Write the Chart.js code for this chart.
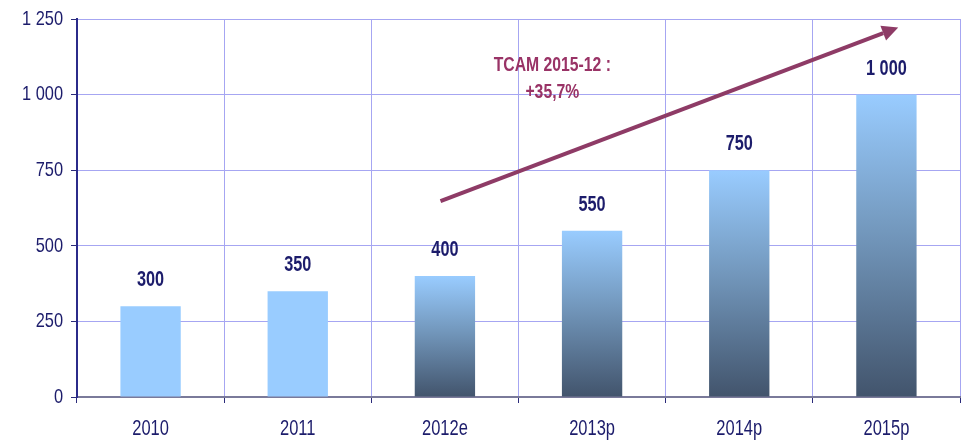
<!DOCTYPE html>
<html><head><meta charset="utf-8">
<script src="https://cdn.jsdelivr.net/npm/chart.js@4.4.0/dist/chart.umd.min.js"></script>
<style>html,body{margin:0;padding:0;background:#fff}#wrap{width:967px;height:440px}</style>
</head><body><div id="wrap"><canvas id="c" width="967" height="440"></canvas></div>
<script>
const categories = ['2010','2011','2012e','2013p','2014p','2015p'];
const values = [300, 350, 400, 550, 750, 1000];
const valueLabels = ['300','350','400','550','750','1 000'];
const yTicks = [0, 250, 500, 750, 1000, 1250];
const yTickLabels = ['0','250','500','750','1 000','1 250'];
const gradientFrom = 2; // index from which bars are shaded
const annotationLines = ['TCAM 2015-12 :', '+35,7%'];
const annotationPos = [[2.73, 1098], [2.73, 1009]];
const arrowFrom = [1.97, 648];
const arrowTo = [5.08, 1222];

const FONT = "'Liberation Sans',Arial,sans-serif";

function drawNarrow(c, txt, x, y, align, sx) {
  c.save();
  c.translate(x, y);
  c.scale(sx, 1);
  c.textAlign = align;
  c.fillText(txt, 0, 0);
  c.restore();
}

function barColor(ctx) {
  const chart = ctx.chart;
  if (ctx.dataIndex < gradientFrom) return '#99ccff';
  const ca = chart.chartArea;
  if (!ca) return '#7fa6cc';
  const ys = chart.scales.y;
  const top = ys.getPixelForValue(values[ctx.dataIndex]);
  const bot = ys.getPixelForValue(0);
  const g = chart.ctx.createLinearGradient(0, top, 0, bot);
  g.addColorStop(0, '#99ccff');
  g.addColorStop(0.45, '#7398bd');
  g.addColorStop(1, '#42546c');
  return g;
}

const overlay = {
  id: 'overlay',
  afterDatasetsDraw(chart) {
    const c = chart.ctx, xs = chart.scales.x, ys = chart.scales.y;
    const meta = chart.getDatasetMeta(0);
    c.save();
    c.textBaseline = 'middle';
    // axis labels
    c.fillStyle = '#1c1c6b';
    c.font = "21px " + FONT;
    yTicks.forEach((v, i) => drawNarrow(c, yTickLabels[i], xs.left - 14, ys.getPixelForValue(v), 'right', 0.78));
    c.font = "22px " + FONT;
    categories.forEach((t, i) => drawNarrow(c, t, xs.getPixelForValue(i), ys.bottom + 32, 'center', 0.75));
    // value labels
    c.font = "bold 22px " + FONT;
    meta.data.forEach((el, i) => drawNarrow(c, valueLabels[i], el.x, el.y - 26, 'center', 0.74));
    // arrow
    const x1 = xs.getPixelForValue(arrowFrom[0]), y1 = ys.getPixelForValue(arrowFrom[1]);
    const x2 = xs.getPixelForValue(arrowTo[0]), y2 = ys.getPixelForValue(arrowTo[1]);
    const ang = Math.atan2(y2 - y1, x2 - x1);
    const hl = 16, hw = 8;
    const bx = x2 - hl * Math.cos(ang), by = y2 - hl * Math.sin(ang);
    c.strokeStyle = '#8e3b66';
    c.fillStyle = '#8e3b66';
    c.lineWidth = 4;
    c.beginPath(); c.moveTo(x1, y1); c.lineTo(bx, by); c.stroke();
    c.beginPath();
    c.moveTo(x2, y2);
    c.lineTo(bx + hw * Math.sin(ang), by - hw * Math.cos(ang));
    c.lineTo(bx - hw * Math.sin(ang), by + hw * Math.cos(ang));
    c.closePath(); c.fill();
    // annotation
    c.fillStyle = '#993366';
    c.font = "bold 21px " + FONT;
    annotationLines.forEach((t, i) => {
      drawNarrow(c, t, xs.getPixelForValue(annotationPos[i][0]), ys.getPixelForValue(annotationPos[i][1]), 'center', 0.75);
    });
    c.restore();
  }
};

new Chart(document.getElementById('c'), {
  type: 'bar',
  data: { labels: categories, datasets: [{ data: values, backgroundColor: barColor, barPercentage: 0.41, categoryPercentage: 1 }] },
  options: {
    responsive: false, animation: false,
    layout: { padding: { top: 19, right: 7, left: 0, bottom: 0 } },
    plugins: { legend: { display: false }, tooltip: { enabled: false } },
    scales: {
      x: {
        grid: { color: '#a6a6f2', borderDash: [2, 2], lineWidth: 1, offset: true, drawTicks: true, tickLength: 6, tickColor: '#2b2b7a', tickBorderDash: [] },
        border: { color: '#7a7a9a', width: 2 },
        ticks: { display: false },
        afterFit(s) { s.height = 43; }
      },
      y: {
        min: 0, max: 1250,
        afterBuildTicks(s) { s.ticks = yTicks.map(v => ({ value: v })); },
        grid: { color: '#a6a6f2', borderDash: [2, 2], lineWidth: 1, drawTicks: true, tickLength: 6, tickColor: '#2b2b7a', tickBorderDash: [] },
        border: { color: '#2b2b8a', width: 2 },
        ticks: { display: false },
        afterFit(s) { s.width = 77; }
      }
    }
  },
  plugins: [overlay]
});
</script></body></html>
